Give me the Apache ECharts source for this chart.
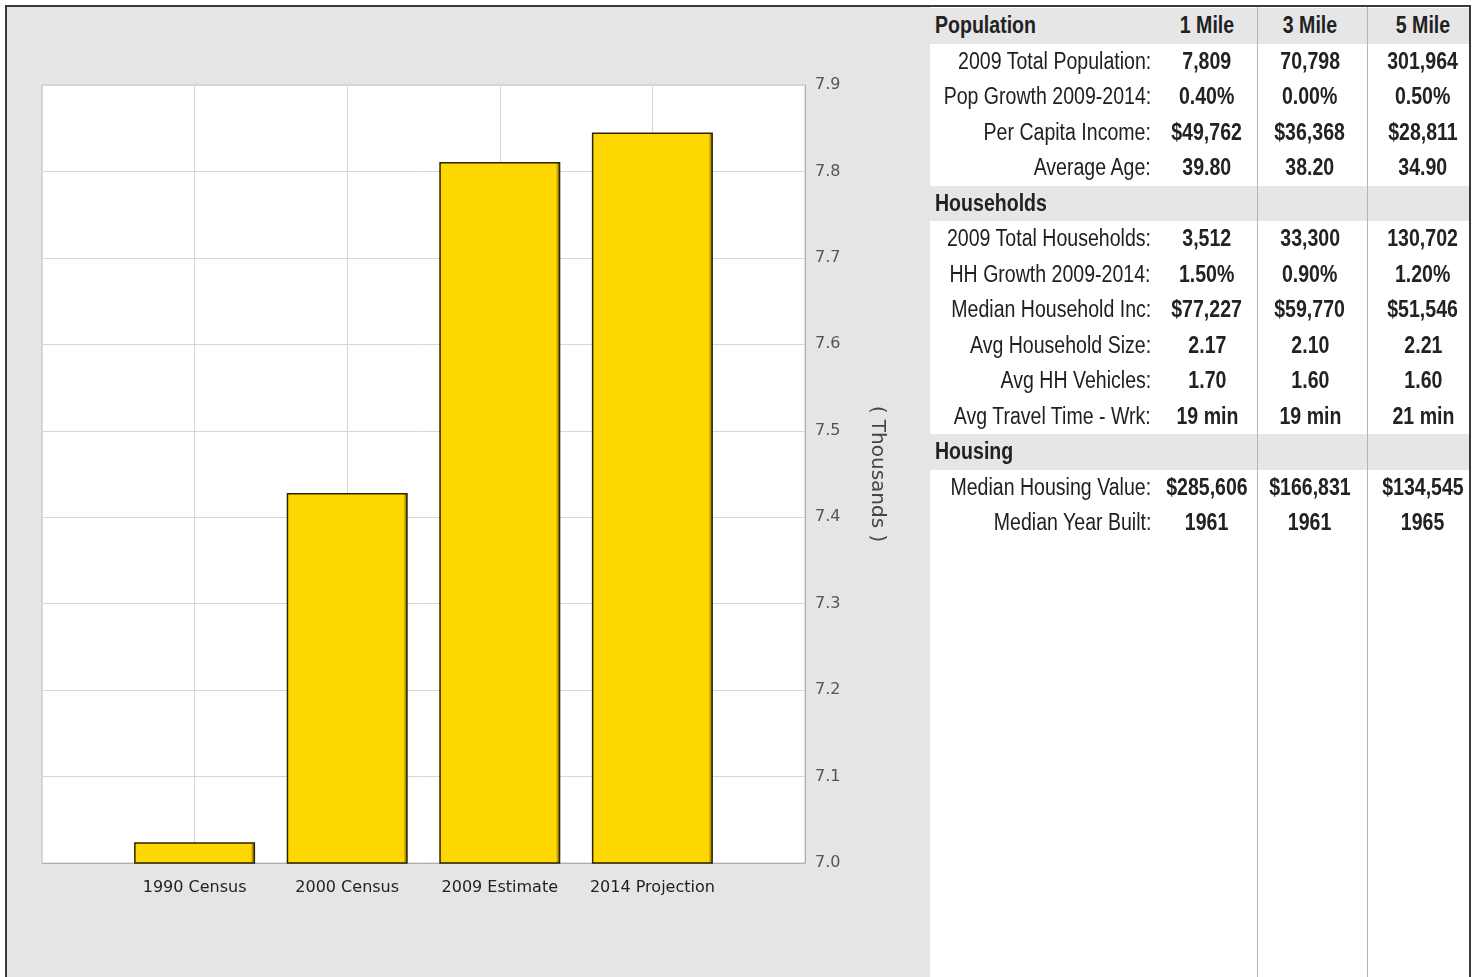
<!DOCTYPE html>
<html>
<head>
<meta charset="utf-8">
<script src="https://cdn.jsdelivr.net/npm/echarts@6/dist/echarts.min.js"></script>
<style>
  html, body { margin: 0; padding: 0; background: #ffffff; width: 1478px; height: 977px; overflow: hidden; }
  #frame { position: absolute; left: 5px; top: 5px; width: 1466px; height: 1000px; border: 2px solid #3a3a3a; border-bottom: none; box-sizing: border-box; }
  #panel { position: absolute; left: 7px; top: 7px; width: 923px; height: 970px; background: #e5e5e5; }
  #chart { position: absolute; left: 0; top: 0; width: 1478px; height: 977px; }
  .band { position: absolute; background: #e6e6e6; }
  .vline { position: absolute; width: 1px; background: #b5b5b5; }
  .cell { position: absolute; font-family: "Liberation Sans", Arial, sans-serif; font-size: 23px; color: #1a1a1a; white-space: nowrap; }
  .cell span { display: inline-block; transform: scaleX(0.85); }
  .lab { text-align: right; color: #202020; }
  .lab span { transform-origin: right center; }
  .val { text-align: center; font-weight: bold; color: #222; }
  .val span { transform-origin: center center; }
  .hdr { text-align: left; font-weight: bold; color: #222; }
  .hdr span { transform-origin: left center; }
</style>
</head>
<body>
<div id="panel"></div>
<div id="chart"></div>
<div id="table"></div>
<div id="frame"></div>
<script>
// ---- Chart data ----
const categories = ['', '1990 Census', '2000 Census', '2009 Estimate', '2014 Projection', ''];
const populationThousands = ['-', 7.024, 7.428, 7.811, 7.845, '-'];
const yTickMin = 7.0;
const yTickMax = 7.9;
const yTickStep = 0.1;
const yAxisName = '( Thousands )';

// ---- Table data ----
const distanceColumns = ['1 Mile', '3 Mile', '5 Mile'];
const populationSection = 'Population';
const populationLabels = ['2009 Total Population:', 'Pop Growth 2009-2014:', 'Per Capita Income:', 'Average Age:'];
const populationValues = [
  ['7,809', '70,798', '301,964'],
  ['0.40%', '0.00%', '0.50%'],
  ['$49,762', '$36,368', '$28,811'],
  ['39.80', '38.20', '34.90']
];
const householdsSection = 'Households';
const householdsLabels = ['2009 Total Households:', 'HH Growth 2009-2014:', 'Median Household Inc:', 'Avg Household Size:', 'Avg HH Vehicles:', 'Avg Travel Time - Wrk:'];
const householdsValues = [
  ['3,512', '33,300', '130,702'],
  ['1.50%', '0.90%', '1.20%'],
  ['$77,227', '$59,770', '$51,546'],
  ['2.17', '2.10', '2.21'],
  ['1.70', '1.60', '1.60'],
  ['19 min', '19 min', '21 min']
];
const housingSection = 'Housing';
const housingLabels = ['Median Housing Value:', 'Median Year Built:'];
const housingValues = [
  ['$285,606', '$166,831', '$134,545'],
  ['1961', '1961', '1965']
];

// ---- Chart ----
const chart = echarts.init(document.getElementById('chart'), null, { renderer: 'canvas' });
chart.setOption({
  backgroundColor: 'transparent',
  animation: false,
  grid: {
    left: 42, top: 85, width: 763, height: 778,
    show: true, backgroundColor: '#ffffff', borderColor: '#c4c4c4', borderWidth: 1,
    containLabel: false
  },
  xAxis: {
    type: 'category',
    data: categories,
    boundaryGap: false,
    axisLine: { show: true, lineStyle: { color: '#b0b0b0', width: 1 } },
    axisTick: { show: false },
    axisLabel: {
      show: true, interval: 0, margin: 17,
      fontFamily: 'DejaVu Sans', fontSize: 16, color: '#222'
    },
    splitLine: { show: true, lineStyle: { color: '#d6d6d6', width: 1 } }
  },
  yAxis: {
    type: 'value',
    position: 'right',
    min: yTickMin, max: yTickMax, interval: yTickStep,
    name: yAxisName,
    nameLocation: 'middle',
    nameRotate: -90,
    nameGap: 62,
    nameTextStyle: { fontFamily: 'DejaVu Sans', fontSize: 20, color: '#444' },
    axisLine: { show: true, lineStyle: { color: '#b0b0b0' } },
    axisTick: { show: false },
    axisLabel: {
      margin: 10,
      fontFamily: 'DejaVu Sans', fontSize: 16, color: '#555',
      formatter: v => v.toFixed(1)
    },
    splitLine: { show: true, lineStyle: { color: '#d6d6d6', width: 1 } }
  },
  series: [{
    type: 'bar',
    data: populationThousands,
    barWidth: 121,
    itemStyle: {
      color: new echarts.graphic.LinearGradient(0, 0, 1, 0, [
        { offset: 0, color: '#FFD700' },
        { offset: 0.965, color: '#FFD700' },
        { offset: 0.975, color: '#C9A600' },
        { offset: 1, color: '#6e5b00' }
      ]),
      borderColor: '#2b2400',
      borderWidth: 1.5
    }
  }]
});

// ---- Table ----
const table = document.getElementById('table');
const rowH = 35.5;
const top0 = 8;
const colCenters = [1207, 1310, 1423];
const tableLeft = 930;
const tableRight = 1471;
let rowIndex = 0;

function addDiv(cls, style, text) {
  const d = document.createElement('div');
  d.className = cls;
  Object.assign(d.style, style);
  if (text !== undefined) {
    const s = document.createElement('span');
    s.textContent = text;
    d.appendChild(s);
  }
  table.appendChild(d);
  return d;
}
function rowTop(i) { return top0 + rowH * i; }
function cellStyle(i, left, width) {
  return { left: left + 'px', top: rowTop(i) + 'px', width: width + 'px', height: rowH + 'px', lineHeight: rowH + 'px' };
}
function addSection(title, labels, values, withColumns) {
  addDiv('band', { left: tableLeft + 'px', top: rowTop(rowIndex) + 'px', width: (tableRight - tableLeft) + 'px', height: rowH + 'px' });
  addDiv('cell hdr', cellStyle(rowIndex, 935, 220), title);
  if (withColumns) {
    distanceColumns.forEach((c, j) => addDiv('cell val', cellStyle(rowIndex, colCenters[j] - 55, 110), c));
  }
  rowIndex++;
  labels.forEach((lab, k) => {
    addDiv('cell lab', cellStyle(rowIndex, 900, 251), lab);
    values[k].forEach((v, j) => addDiv('cell val', cellStyle(rowIndex, colCenters[j] - 55, 110), v));
    rowIndex++;
  });
}
addSection(populationSection, populationLabels, populationValues, true);
addSection(householdsSection, householdsLabels, householdsValues, false);
addSection(housingSection, housingLabels, housingValues, false);
[1257, 1367].forEach(x => addDiv('vline', { left: x + 'px', top: '7px', height: '970px' }));
</script>
</body>
</html>
